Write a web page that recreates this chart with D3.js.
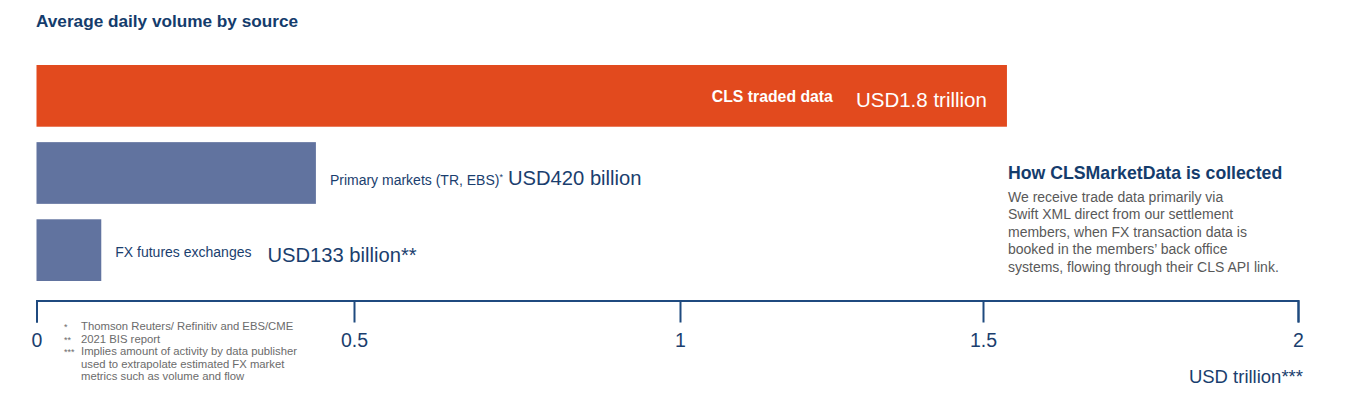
<!DOCTYPE html>
<html>
<head>
<meta charset="utf-8">
<script src="https://cdn.jsdelivr.net/npm/d3@7"></script>
<style>
  html, body { margin: 0; padding: 0; background: #fff; }
  svg { display: block; font-family: "Liberation Sans", Arial, sans-serif; }
</style>
</head>
<body>
<svg id="chart"></svg>
<script>
// bar lengths as drawn against the axis (USD trillion), with their printed labels
var sources = ["CLS traded data", "Primary markets (TR, EBS)", "FX futures exchanges"];
var barLengths = [1.538, 0.44, 0.102];
var valueLabels = ["USD1.8 trillion", "USD420 billion", "USD133 billion**"];
var nameMarks = ["", "*", ""];
var axisTicks = [0, 0.5, 1, 1.5, 2];

var noteTitle = "How CLSMarketData is collected";
var noteLines = [
  "We receive trade data primarily via",
  "Swift XML direct from our settlement",
  "members, when FX transaction data is",
  "booked in the members\u2019 back office",
  "systems, flowing through their CLS API link."
];
var footMarks = ["*", "**", "***", "", ""];
var footLines = [
  "Thomson Reuters/ Refinitiv and EBS/CME",
  "2021 BIS report",
  "Implies amount of activity by data publisher",
  "used to extrapolate estimated FX market",
  "metrics such as volume and flow"
];

var width = 1350, height = 418;
var navy = "#1a3e6e", axisNavy = "#1f4a7f";
var barColors = ["#e24a1e", "#61739f", "#61739f"];
var labelShift = [0, 6, 1];

var svg = d3.select("#chart").attr("width", width).attr("height", height);

// the printed axis is not evenly spaced, so the scale follows its tick positions
var x = d3.scaleLinear().domain(axisTicks).range([36.5, 354, 680, 983, 1298]);
var y = d3.scaleBand().domain(sources).range([65, 281]).paddingInner(0.2);

svg.append("text")
  .attr("x", 36).attr("y", 27)
  .attr("fill", "#143c6c")
  .style("font-size", "17.2px").style("font-weight", "bold")
  .text("Average daily volume by source");

var bar = svg.selectAll("g.bar")
  .data(sources)
  .enter().append("g")
  .attr("class", "bar");

bar.append("rect")
  .attr("x", x(0))
  .attr("y", function (d) { return y(d); })
  .attr("width", function (d, i) { return x(barLengths[i]) - x(0); })
  .attr("height", y.bandwidth())
  .attr("fill", function (d, i) { return barColors[i]; });

// first label sits inside its bar, the others to the right
var label = bar.append("text")
  .attr("x", function (d, i) { return i === 0 ? x(barLengths[i]) - 20 : x(barLengths[i]) + 14; })
  .attr("y", function (d, i) { return y(d) + y.bandwidth() / 2 + 6 + labelShift[i]; })
  .attr("text-anchor", function (d, i) { return i === 0 ? "end" : "start"; })
  .attr("fill", function (d, i) { return i === 0 ? "#fff" : navy; });

label.append("tspan")
  .style("font-size", function (d, i) { return i === 0 ? "15.8px" : "14px"; })
  .style("font-weight", function (d, i) { return i === 0 ? "bold" : "normal"; })
  .text(function (d) { return d; });

label.append("tspan")
  .attr("dy", -5)
  .style("font-size", "9px")
  .text(function (d, i) { return nameMarks[i]; });

label.append("tspan")
  .attr("dy", 5)
  .attr("dx", function (d, i) { return i === 0 ? 23 : (nameMarks[i] ? 5 : 16); })
  .style("font-size", function (d, i) { return i === 0 ? "20.5px" : "20.2px"; })
  .text(function (d, i) { return valueLabels[i]; });

// axis
var axis = svg.append("g")
  .attr("transform", "translate(0,300.5)")
  .call(d3.axisBottom(x)
    .tickValues(axisTicks)
    .tickSize(22)
    .tickSizeOuter(22)
    .tickPadding(11)
    .tickFormat(d3.format("~g")));

axis.select(".domain").attr("stroke", axisNavy).attr("stroke-width", 2);
axis.selectAll(".tick line").attr("stroke", axisNavy).attr("stroke-width", 2);
axis.selectAll(".tick text")
  .attr("fill", navy)
  .style("font-size", "19.5px")
  .style("font-family", "\"Liberation Sans\", Arial, sans-serif");

svg.append("text")
  .attr("x", 1303).attr("y", 383)
  .attr("text-anchor", "end")
  .attr("fill", navy)
  .style("font-size", "18.5px")
  .text("USD trillion***");

// explanatory note
svg.append("text")
  .attr("x", 1008).attr("y", 179)
  .attr("fill", "#143c6c")
  .style("font-size", "17.7px").style("font-weight", "bold")
  .text(noteTitle);

svg.selectAll("text.note")
  .data(noteLines)
  .enter().append("text")
  .attr("class", "note")
  .attr("x", 1008)
  .attr("y", function (d, i) { return 201.5 + i * 17.5; })
  .attr("fill", "#595959")
  .style("font-size", "14px")
  .text(function (d) { return d; });

// footnotes
var foot = svg.selectAll("g.foot")
  .data(footLines)
  .enter().append("g")
  .attr("class", "foot")
  .attr("transform", function (d, i) { return "translate(0," + (330 + i * 12.5) + ")"; });

foot.append("text")
  .attr("x", 64)
  .attr("fill", "#6b6b6b")
  .style("font-size", "9px")
  .text(function (d, i) { return footMarks[i]; });

foot.append("text")
  .attr("x", 81)
  .attr("fill", "#6b6b6b")
  .style("font-size", "11.3px")
  .text(function (d) { return d; });
</script>
</body>
</html>
